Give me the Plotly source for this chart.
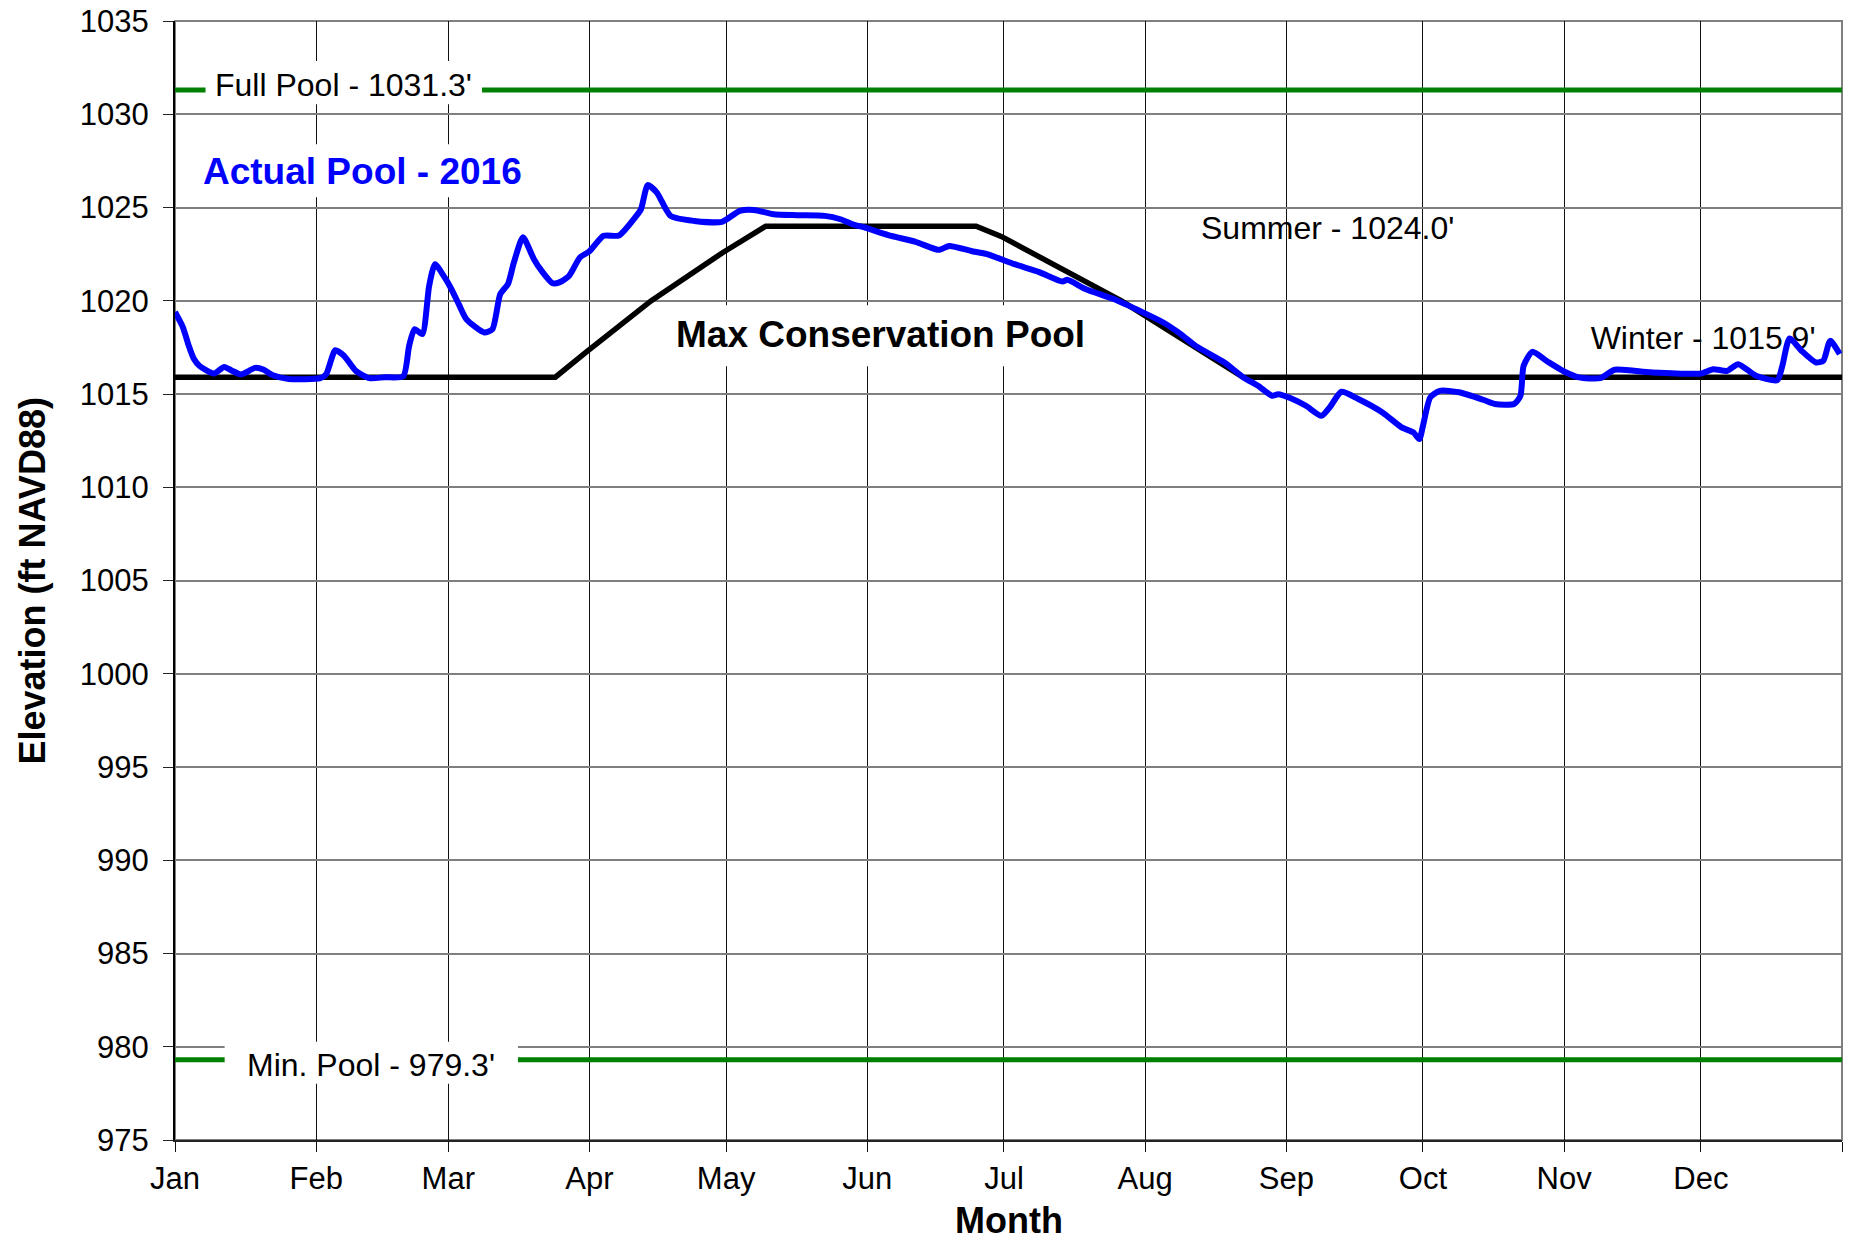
import plotly.graph_objects as go

# ---------------- data ----------------
month_labels = ["Jan", "Feb", "Mar", "Apr", "May", "Jun", "Jul", "Aug", "Sep", "Oct", "Nov", "Dec"]
month_start_days = [0, 31, 60, 91, 121, 152, 182, 213, 244, 274, 305, 335]
year_end_day = 366

y_ticks = [975, 980, 985, 990, 995, 1000, 1005, 1010, 1015, 1020, 1025, 1030, 1035]

full_pool = 1031.3
min_pool = 979.3

# Max conservation pool (rule curve)
rule_days = [0, 83.5, 90.2, 104.5, 120.3, 129.7, 175.9, 181.4, 207.8, 220.6, 234.5, 366]
rule_elev = [1015.9, 1015.9, 1017.23, 1019.99, 1022.59, 1024.0, 1024.0, 1023.45, 1019.99, 1018.03, 1015.9, 1015.9]

# Actual pool 2016
actual_days = [0.0, 1.7, 3.0, 4.1, 5.4, 8.5, 10.8, 12.5, 14.5, 17.6, 19.5, 21.5, 25.0, 31.9, 33.2, 35.2,
               37.1, 39.7, 42.7, 46.0, 50.1, 51.4, 52.6, 54.3, 55.8, 57.1, 59.2, 60.5, 62.3, 64.0, 67.9,
               69.7, 71.4, 73.1, 74.4, 76.4, 78.8, 80.5, 82.9, 84.5, 86.5, 88.9, 91.0, 94.1, 97.5, 101.0,
               102.3, 103.8, 105.8, 108.8, 114.0, 120.1, 124.0, 127.1, 131.4, 136.6, 142.7, 146.1, 148.8,
               151.4, 156.6, 162.6, 167.7, 170.0, 174.8, 178.3, 184.3, 189.6, 194.8, 195.9, 200.0, 206.1,
               212.3, 216.8, 220.6, 224.1, 230.4, 234.6, 237.8, 240.9, 242.2, 245.1, 248.3, 251.7, 253.5,
               256.1, 259.8, 265.1, 269.3, 271.9, 273.2, 274.0, 275.6, 277.7, 281.9, 287.2, 289.8, 294.0,
               295.4, 296.1, 298.0, 301.4, 305.1, 308.2, 312.9, 316.1, 324.0, 335.0, 337.7, 340.8, 343.2,
               347.1, 351.8, 352.9, 354.5, 357.1, 360.3, 361.9, 363.4, 365.5]
actual_elev = [1019.4, 1018.6, 1017.6, 1016.9, 1016.5, 1016.1, 1016.45, 1016.25, 1016.05, 1016.4, 1016.3,
               1016.0, 1015.8, 1015.85, 1016.07, 1017.35, 1017.05, 1016.24, 1015.85, 1015.9, 1015.95,
               1017.58, 1018.48, 1018.21, 1020.8, 1021.96, 1021.25, 1020.71, 1019.82, 1019.0, 1018.3,
               1018.48, 1020.35, 1020.89, 1022.05, 1023.4, 1022.23, 1021.6, 1020.94, 1021.0, 1021.33,
               1022.32, 1022.65, 1023.48, 1023.5, 1024.46, 1024.9, 1026.2, 1025.8, 1024.55, 1024.28,
               1024.23, 1024.82, 1024.87, 1024.64, 1024.59, 1024.55, 1024.37, 1024.1, 1023.93, 1023.52,
               1023.16, 1022.73, 1022.94, 1022.67, 1022.5, 1021.96, 1021.55, 1021.03, 1021.12, 1020.62,
               1020.09, 1019.4, 1018.86, 1018.25, 1017.58, 1016.69, 1015.89, 1015.44, 1014.9, 1014.99,
               1014.76, 1014.37, 1013.83, 1014.28, 1015.12, 1014.73, 1014.01, 1013.21, 1012.94, 1012.58,
               1013.29, 1014.82, 1015.17, 1015.09, 1014.69, 1014.46, 1014.46, 1014.9, 1016.51, 1017.26,
               1016.73, 1016.19, 1015.89, 1015.85, 1016.3, 1016.16, 1016.1, 1016.33, 1016.24, 1016.6,
               1015.98, 1015.74, 1016.51, 1017.98, 1017.32, 1016.69, 1016.78, 1017.85, 1017.14]

FONT = "Liberation Sans, Arial, sans-serif"
GREEN = "#008000"

fig = go.Figure()

# pool limit lines
fig.add_trace(go.Scatter(x=[0, year_end_day], y=[full_pool, full_pool], mode="lines",
                         line=dict(color=GREEN, width=5), hoverinfo="skip", showlegend=False))
fig.add_trace(go.Scatter(x=[0, year_end_day], y=[min_pool, min_pool], mode="lines",
                         line=dict(color=GREEN, width=5), hoverinfo="skip", showlegend=False))

# rule curve
fig.add_trace(go.Scatter(x=rule_days, y=rule_elev, mode="lines",
                         line=dict(color="black", width=5.5), hoverinfo="skip", showlegend=False))

# Winter label sits under the actual pool line
fig.add_trace(go.Scatter(x=[335.5], y=[1017.83], mode="text", text=["Winter - 1015.9'"],
                         textposition="middle center",
                         textfont=dict(family=FONT, size=32, color="black"),
                         hoverinfo="skip", showlegend=False))

# actual pool
fig.add_trace(go.Scatter(x=actual_days, y=actual_elev, mode="lines",
                         line=dict(color="#0000ff", width=6, shape="spline", smoothing=0.6),
                         showlegend=False))

# white label boxes (cover gridlines / pool lines)
boxes = [
    (6.7, 67.4, 1030.54, 1032.86),     # Full pool label
    (4.4, 77.9, 1025.55, 1028.39),     # Actual pool label
    (108.2, 201.8, 1016.49, 1019.76),  # Max conservation pool label
    (10.9, 75.3, 978.02, 980.27),      # Min pool label
]
shapes = [dict(type="rect", xref="x", yref="y", x0=a, x1=b, y0=c, y1=d,
               fillcolor="white", line=dict(width=0), layer="above") for a, b, c, d in boxes]
shapes.append(dict(type="rect", xref="paper", yref="paper", x0=0, x1=1, y0=0, y1=1,
                   line=dict(color="#808080", width=2), layer="below"))

annotations = [
    dict(x=37.1, y=1031.55, text="Full Pool - 1031.3'", font=dict(family=FONT, size=32, color="black")),
    dict(x=41.1, y=1026.95, text="<b>Actual Pool - 2016</b>", font=dict(family=FONT, size=37, color="#0000ff")),
    dict(x=154.9, y=1018.21, text="<b>Max Conservation Pool</b>", font=dict(family=FONT, size=37, color="black")),
    dict(x=253.1, y=1023.89, text="Summer - 1024.0'", font=dict(family=FONT, size=32, color="black")),
    dict(x=43.0, y=979.0, text="Min. Pool - 979.3'", font=dict(family=FONT, size=32, color="black")),
]
for a in annotations:
    a.update(xref="x", yref="y", showarrow=False, xanchor="center", yanchor="middle")

annotations.append(dict(xref="paper", yref="paper", x=0.5, y=-0.0715, text="<b>Month</b>",
                        showarrow=False, xanchor="center", yanchor="middle",
                        font=dict(family=FONT, size=36, color="black")))
annotations.append(dict(xref="paper", yref="paper", x=-0.0852, y=0.5, text="<b>Elevation (ft NAVD88)</b>",
                        showarrow=False, xanchor="center", yanchor="middle", textangle=-90,
                        font=dict(family=FONT, size=36, color="black")))

fig.update_layout(
    width=1851, height=1241,
    margin=dict(l=175, r=9, t=21, b=101, autoexpand=False),
    paper_bgcolor="white", plot_bgcolor="white",
    font=dict(family=FONT, size=31, color="black"),
    shapes=shapes, annotations=annotations,
    showlegend=False,
)

fig.update_xaxes(
    range=[0, year_end_day], automargin=False,
    tickmode="array", tickvals=month_start_days + [year_end_day], ticktext=month_labels + [""],
    showgrid=True, gridcolor="#111111", gridwidth=1,
    ticks="outside", ticklen=10, tickcolor="#111111", tickwidth=1,
    showline=True, linecolor="#222222", linewidth=2,
    zeroline=False, ticklabelstandoff=0,
    tickfont=dict(family=FONT, size=31, color="black"),
)
fig.update_yaxes(
    range=[975, 1035], automargin=False,
    tickmode="array", tickvals=y_ticks,
    showgrid=True, gridcolor="#7f7f7f", gridwidth=1.5,
    ticks="outside", ticklen=10, tickcolor="#222222", tickwidth=1,
    showline=True, linecolor="black", linewidth=2,
    zeroline=False, ticklabelstandoff=8,
    tickfont=dict(family=FONT, size=31, color="black"),
)

fig.write_html("out.html", config={"displayModeBar": False},
               post_script="document.body.style.margin='0';document.body.style.overflow='hidden';")
